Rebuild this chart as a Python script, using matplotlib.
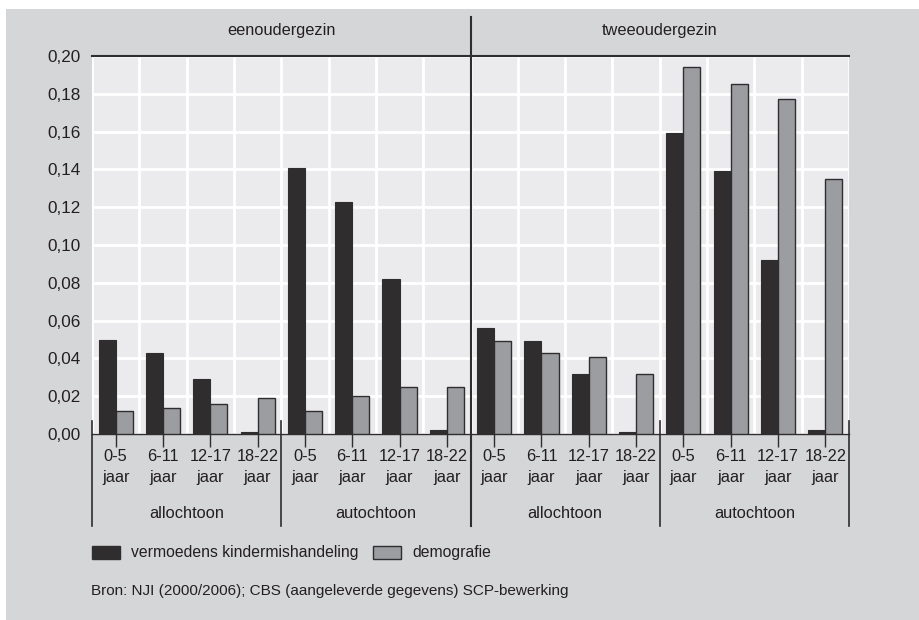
import matplotlib
matplotlib.use("Agg")
import matplotlib.pyplot as plt
from matplotlib.patches import Rectangle
from matplotlib.lines import Line2D
import numpy as np

plt.rcParams['font.family'] = ['Liberation Sans Narrow', 'Liberation Sans', 'DejaVu Sans']
plt.rcParams['font.size'] = 10.5

# data
ages = ["0-5\njaar", "6-11\njaar", "12-17\njaar", "18-22\njaar"]
herkomst = ["allochtoon", "autochtoon"]
gezin = ["eenoudergezin", "tweeoudergezin"]
vermoedens = [0.050, 0.043, 0.029, 0.001,
              0.141, 0.123, 0.082, 0.002,
              0.056, 0.049, 0.032, 0.001,
              0.159, 0.139, 0.092, 0.002]
demografie = [0.012, 0.014, 0.016, 0.019,
              0.012, 0.020, 0.025, 0.025,
              0.049, 0.043, 0.041, 0.032,
              0.194, 0.185, 0.177, 0.135]

W, H = 919, 620
dark = '#2f2d2e'
grey = '#9c9da1'
txt = '#231f20'

fig = plt.figure(figsize=(W / 100, H / 100), dpi=100, facecolor='white')
fig.patches.append(Rectangle((6 / W, 0), 1 - 6 / W, 1 - 9 / H, transform=fig.transFigure,
                             facecolor='#d5d6d8', edgecolor='none', zorder=-10))

left, right, top, bottom = 92, 849, 56, 434
ax = fig.add_axes([left / W, 1 - bottom / H, (right - left) / W, (bottom - top) / H])
ax.set_facecolor('#ebebed')

n = len(vermoedens)
x = np.arange(n)
bw = 0.36
ax.bar(x - bw / 2, vermoedens, bw, color=dark, edgecolor=dark, linewidth=0.8, zorder=3)
ax.bar(x + bw / 2, demografie, bw, color=grey, edgecolor=dark, linewidth=1.0, zorder=3)

ax.set_xlim(-0.5, n - 0.5)
ax.set_ylim(0, 0.20)
ax.set_yticks(np.arange(0, 0.201, 0.02))
ax.set_yticklabels([f"{v:.2f}".replace('.', ',') for v in np.arange(0, 0.201, 0.02)],
                   color=txt, fontsize=12.3)
ax.tick_params(axis='y', length=0, pad=8)
ax.set_xticks(x)
ax.set_xticklabels(ages * 4, color=txt, fontsize=11.8, linespacing=1.5)
ax.tick_params(axis='x', length=9, width=1, color=dark, pad=2)
ax.set_xticks(np.arange(-0.5, n, 1), minor=True)
ax.tick_params(axis='x', which='minor', length=0)
ax.grid(True, which='major', axis='y', color='white', linewidth=2, zorder=1)
ax.grid(True, which='minor', axis='x', color='white', linewidth=2, zorder=1)
ax.set_axisbelow(True)

for s in ['left', 'right']:
    ax.spines[s].set_visible(False)
ax.spines['top'].set_color(dark)
ax.spines['top'].set_linewidth(1.5)
ax.spines['bottom'].set_color(dark)
ax.spines['bottom'].set_linewidth(1)

tr = ax.get_xaxis_transform()
px = lambda p: (bottom - p) / (bottom - top)

# group separators below axis
for xb in [-0.5, 3.5, 11.5, 15.5]:
    ax.add_line(Line2D([xb, xb], [px(421), px(526)], transform=tr, color=dark,
                       linewidth=1.2, clip_on=False))
ax.add_line(Line2D([7.5, 7.5], [px(17), px(526)], transform=tr, color=dark,
                   linewidth=1.5, clip_on=False, zorder=5))

# group labels
for i in range(4):
    ax.text(i * 4 + 1.5, px(513), herkomst[i % 2], transform=tr, ha='center', va='center',
            color=txt, fontsize=11.8)
for i in range(2):
    ax.text(i * 8 + 3.5, px(31), gezin[i], transform=tr, ha='center', va='center',
            color=txt, fontsize=11.8)

# legend
fig.patches.append(Rectangle((92 / W, 1 - 559 / H), 28 / W, 13 / H, transform=fig.transFigure,
                             facecolor=dark, edgecolor=dark, linewidth=1))
fig.text(131 / W, 1 - 552 / H, "vermoedens kindermishandeling", ha='left', va='center',
         color=txt, fontsize=11.3)
fig.patches.append(Rectangle((373 / W, 1 - 559 / H), 28 / W, 13 / H, transform=fig.transFigure,
                             facecolor=grey, edgecolor=dark, linewidth=1))
fig.text(412 / W, 1 - 552 / H, "demografie", ha='left', va='center', color=txt, fontsize=11.3)

fig.text(91 / W, 1 - 591 / H, "Bron: NJI (2000/2006); CBS (aangeleverde gegevens) SCP-bewerking",
         ha='left', va='center', color=txt, fontsize=11)

fig.savefig("out.png", dpi=100, facecolor=fig.get_facecolor())
